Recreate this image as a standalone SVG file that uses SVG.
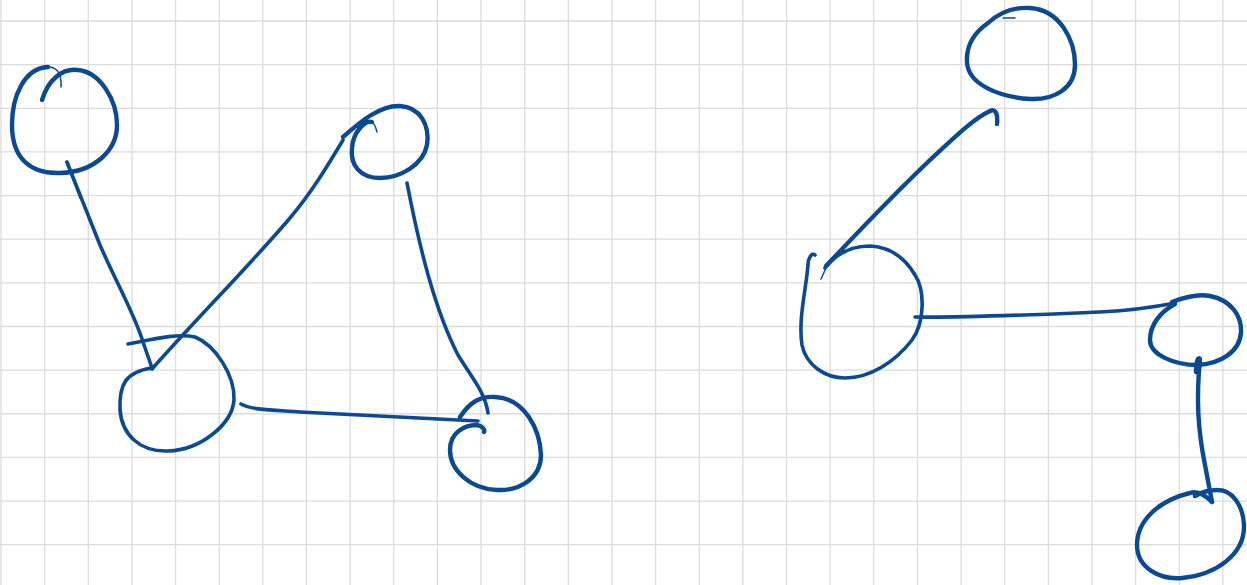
<svg xmlns="http://www.w3.org/2000/svg" width="1247" height="585" viewBox="0 0 1247 585">
<style>
.grid{fill:none;stroke:#dcdcdc;stroke-width:1.3}
.ink{fill:none;stroke:#0b4a93;stroke-width:3.6;stroke-linecap:round;stroke-linejoin:round}
.thin{fill:none;stroke:#0b4a93;stroke-width:1.5;stroke-linecap:round}
.bold{stroke-width:4.4}
</style>
<rect width="1247" height="585" fill="#ffffff"/>
<path class="grid" d="M1,0V585M44.64,0V585M88.28,0V585M131.92,0V585M175.56,0V585M219.2,0V585M262.84,0V585M306.48,0V585M350.12,0V585M393.76,0V585M437.4,0V585M481.04,0V585M524.68,0V585M568.32,0V585M611.96,0V585M655.6,0V585M699.24,0V585M742.88,0V585M786.52,0V585M830.16,0V585M873.8,0V585M917.44,0V585M961.08,0V585M1004.72,0V585M1048.36,0V585M1092,0V585M1135.64,0V585M1179.28,0V585M1222.92,0V585M0,21H1247M0,64.64H1247M0,108.28H1247M0,151.92H1247M0,195.56H1247M0,239.2H1247M0,282.84H1247M0,326.48H1247M0,370.12H1247M0,413.76H1247M0,457.4H1247M0,501.04H1247M0,544.68H1247"/>
<g id="connectors">
<path class="ink" d="M67,162 C78,190 90,220 100,245 C115,280 135,315 143,342 L152,368"/>
<path class="thin" d="M66,162 L80,198"/>
<path class="ink" d="M152,369 C200,315 250,265 290,218 C312,192 328,165 343,140"/>
<path class="ink" d="M407,183 C420,250 435,310 458,355 C472,378 485,392 488,413"/>
<path class="ink" d="M241,404 C252,410 272,410 300,412 L478,421"/>
<path class="ink bold" d="M997,124 C998,115 996,108 990,111 C975,118 960,132 930,160 C890,198 858,232 826,266"/>
<path class="thin" d="M826,268 L821,279"/>
<path class="ink" d="M915,317 C960,318 1050,314 1100,312 C1140,310 1160,306 1175,303"/>
<path class="ink bold" d="M1196,372 C1196,362 1198,356 1200,359 C1196,400 1198,430 1205,465 L1212,502"/>
</g>
<g id="node-a">
<path class="ink bold" d="M42,100 C48,80 62,68 78,70 C100,72 117,100 117,125 C117,150 95,172 60,173 C30,174 12,158 12,125 C12,95 25,68 48,67"/>
<path class="thin" d="M48,67 C55,67 62,71 61,87"/>
</g>
<g id="node-b">
<path class="ink" d="M128,344 C150,340 175,333 195,337 C215,345 235,375 234,400 C232,425 200,450 168,451 C140,452 122,435 120,410 C119,385 125,372 152,368"/>
</g>
<g id="node-c">
<path class="ink bold" d="M343,137 C360,122 380,105 400,106 C420,107 430,125 427,145 C423,165 400,178 380,178 C360,178 350,165 352,148 C353,132 365,120 372,122"/>
<path class="thin" d="M372,122 C375,124 376,128 377,132"/>
</g>
<g id="node-d">
<path class="ink bold" d="M460,417 C470,402 480,396 495,397 C525,398 540,430 541,455 C541,478 520,491 497,490 C470,489 450,470 450,450 C450,432 465,425 477,425 C483,426 485,430 484,432"/>
</g>
<g id="node-e">
<path class="ink bold" d="M988,23 C1000,12 1015,7 1030,8 C1060,10 1075,40 1075,65 C1075,88 1055,100 1030,99 C1000,97 968,85 967,62 C966,45 975,32 988,23"/>
<path class="thin" d="M1003,18 L1015,18"/>
</g>
<g id="node-f">
<path class="ink" d="M815,255 C812,252 808,258 808,265 C806,290 798,320 802,345 C806,365 825,378 845,378 C870,378 895,362 912,340 C925,322 925,290 915,275 C905,258 890,247 870,246 C850,246 835,255 825,268"/>
</g>
<g id="node-g">
<path class="ink bold" d="M1172,302 C1185,297 1200,294 1210,296 C1230,300 1242,315 1241,332 C1240,352 1220,364 1197,365 C1175,365 1150,355 1150,340 C1150,325 1160,312 1175,304"/>
</g>
<g id="node-h">
<path class="ink bold" d="M1212,502 C1205,495 1198,490 1190,493 C1160,500 1137,520 1137,545 C1137,568 1160,580 1182,578 C1215,575 1245,555 1244,525 C1243,505 1232,490 1218,490 C1208,490 1200,493 1195,496"/>
</g>
</svg>
